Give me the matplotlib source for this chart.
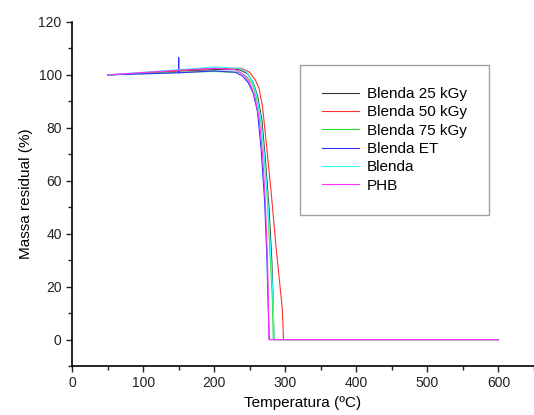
import matplotlib
matplotlib.use('Agg')
import matplotlib.pyplot as plt
from matplotlib.ticker import MultipleLocator

plt.rcParams['font.family'] = ['Liberation Sans', 'DejaVu Sans']

labels = ['Blenda 25 kGy', 'Blenda 50 kGy', 'Blenda 75 kGy', 'Blenda ET', 'Blenda', 'PHB']
colors = ['#333333', '#ff3030', '#30e030', '#3030ff', '#30ffff', '#ff30ff']

x_25 = [50, 150, 200, 235, 247, 255, 261, 267, 272, 277, 281, 283, 284, 600]
y_25 = [100, 101.5, 102, 102, 100.5, 97, 92, 83, 68, 50, 30, 14, 0, 0]
x_50 = [50, 150, 200, 238, 250, 258, 263, 268, 273, 280, 287, 296, 297.5, 600]
y_50 = [100, 101.5, 102.5, 102.5, 101, 98, 95, 88, 75, 56, 35, 11, 0, 0]
x_75 = [50, 150, 200, 235, 245, 253, 259, 265, 270, 275, 279, 282, 283, 600]
y_75 = [100, 101, 101.3, 101, 99.5, 97, 92, 84, 70, 52, 30, 14, 0, 0]
x_et = [50, 150, 150, 150, 200, 230, 240, 248, 255, 261, 266, 271, 274, 276, 277.5, 600]
y_et = [100, 100.8, 106.5, 100.8, 101.5, 101, 99.5, 97, 93, 86, 72, 52, 32, 12, 0, 0]
x_bl = [50, 150, 200, 235, 246, 254, 260, 266, 271, 276, 280, 283, 284, 600]
y_bl = [100, 102, 103, 102.5, 101, 97.5, 92, 83, 68, 50, 30, 15, 0, 0]
x_phb = [50, 150, 200, 230, 242, 250, 257, 263, 268, 272, 275, 276.5, 277, 600]
y_phb = [100, 101.8, 102.5, 102, 100, 97, 92, 84, 70, 52, 30, 10, 0, 0]

xs = [x_25, x_50, x_75, x_et, x_bl, x_phb]
ys = [y_25, y_50, y_75, y_et, y_bl, y_phb]

fig = plt.figure(figsize=(5.34, 4.15), dpi=100)
ax = fig.add_axes([0.135, 0.118, 0.865, 0.829])

for x, y, c, lab in zip(xs, ys, colors, labels):
    ax.plot(x, y, color=c, lw=0.8, label=lab)

ax.set_xlim(0, 650)
ax.set_ylim(-10, 120)
ax.xaxis.set_major_locator(MultipleLocator(100))
ax.xaxis.set_minor_locator(MultipleLocator(50))
ax.yaxis.set_major_locator(MultipleLocator(20))
ax.yaxis.set_minor_locator(MultipleLocator(10))
ax.spines['top'].set_visible(False)
ax.spines['right'].set_visible(False)
ax.spines['left'].set_linewidth(1.2)
ax.spines['bottom'].set_linewidth(1.2)
ax.tick_params(which='both', direction='out', width=1, labelsize=10, colors='#222222')
ax.tick_params(which='major', length=4)
ax.tick_params(which='minor', length=3)
ax.set_xlabel('Temperatura (ºC)', fontsize=11)
ax.set_ylabel('Massa residual (%)', fontsize=11)

leg = ax.legend(loc='upper left', bbox_to_anchor=(0.494, 0.875), fontsize=11,
                frameon=True, fancybox=False, handlelength=2.4, handletextpad=0.5,
                labelspacing=0.28, borderpad=1.45, borderaxespad=0)
leg.get_frame().set_edgecolor('#888888')
leg.get_frame().set_linewidth(1.0)

fig.savefig('out.png', dpi=100)
